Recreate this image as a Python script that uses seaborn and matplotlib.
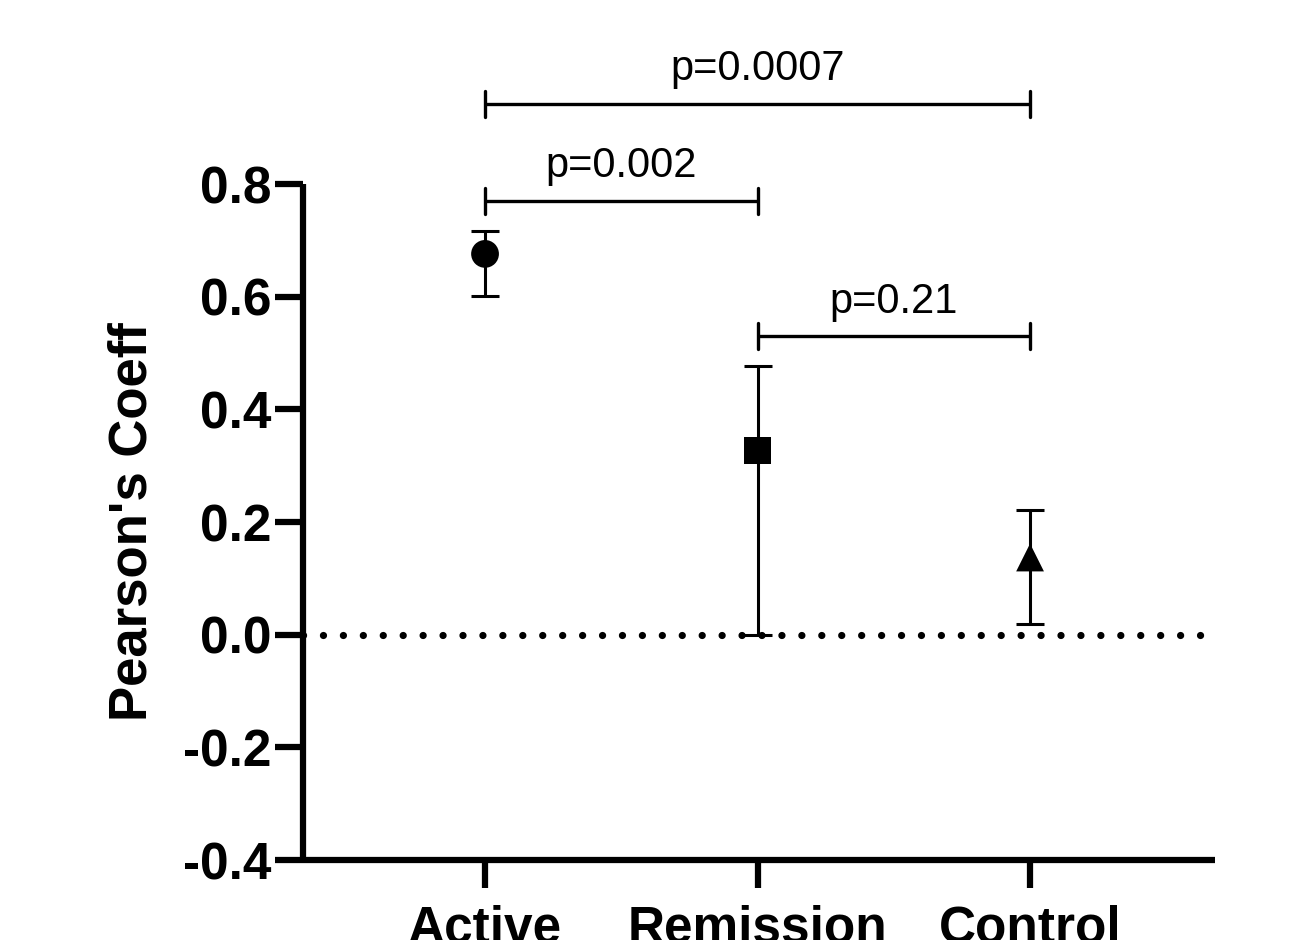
import numpy as np
import pandas as pd
import matplotlib
matplotlib.use("Agg")
import matplotlib.pyplot as plt
import seaborn as sns

# Group summary values
groups = ["Active", "Remission", "Control"]
means = [0.676, 0.327, 0.137]
upper = [0.717, 0.477, 0.221]
lower = [0.601, 0.000, 0.019]
markers = ["o", "s", "^"]

# Significance brackets: (from group, to group, height, label)
comp_from = ["Active", "Active", "Remission"]
comp_to = ["Control", "Remission", "Control"]
comp_y = [0.942, 0.770, 0.530]
comp_text = ["p=0.0007", "p=0.002", "p=0.21"]

sns.set_style("ticks")
plt.rcParams["font.family"] = ["Liberation Sans", "DejaVu Sans"]
plt.rcParams.update({"text.color": "black", "axes.edgecolor": "black",
                     "xtick.color": "black", "ytick.color": "black",
                     "axes.labelcolor": "black"})

df = pd.DataFrame({"group": groups, "mean": means, "upper": upper, "lower": lower})

fig = plt.figure(figsize=(12.91, 9.40), dpi=100)
ax = fig.add_axes([0.2347, 0.0851, 0.7065, 0.7191])

# dotted zero line
ax.axhline(0, xmin=0, xmax=0.985, color="black", lw=5.2,
           linestyle=(0, (0.01, 2.75)), dash_capstyle="round", zorder=1)

# error bars
xpos = np.arange(len(groups))
yerr = [df["mean"] - df["lower"], df["upper"] - df["mean"]]
ax.errorbar(xpos, df["mean"], yerr=yerr, fmt="none", ecolor="black",
            elinewidth=2.2, capsize=10, capthick=2.2, zorder=2)

sns.scatterplot(data=df, x="group", y="mean", style="group", markers=markers,
                color="black", s=400, edgecolor="black", linewidth=0,
                legend=False, ax=ax, zorder=3)

# significance brackets
h = 0.023
for a, b, y, t in zip(comp_from, comp_to, comp_y, comp_text):
    x1, x2 = groups.index(a), groups.index(b)
    ax.plot([x1, x2], [y, y], color="black", lw=2.4, clip_on=False,
             solid_capstyle="butt")
    ax.plot([x1, x1], [y - h, y + h], color="black", lw=2.4, clip_on=False)
    ax.plot([x2, x2], [y - h, y + h], color="black", lw=2.4, clip_on=False)
    ax.annotate(t, xy=((x1 + x2) / 2, y), xytext=(0, 17), textcoords="offset points",
                ha="center", va="baseline", fontsize=30, annotation_clip=False)

ax.set_xlim(-0.668, 2.679)
ax.set_ylim(-0.4, 0.8)
ax.set_yticks([-0.4, -0.2, 0.0, 0.2, 0.4, 0.6, 0.8])
ax.set_yticklabels(["-0.4", "-0.2", "0.0", "0.2", "0.4", "0.6", "0.8"])
ax.set_xticks(xpos)
ax.set_xticklabels(groups)

sns.despine(ax=ax)
for side in ["left", "bottom"]:
    ax.spines[side].set_linewidth(4.5)
    ax.spines[side].set_capstyle("butt")

ax.tick_params(axis="y", length=20, width=4.5, pad=3, labelsize=37)
ax.tick_params(axis="x", length=20, width=4.5, pad=12, labelsize=37)
for lab in ax.get_xticklabels() + ax.get_yticklabels():
    lab.set_fontweight("bold")

ax.set_xlabel("")
ax.set_ylabel("Pearson's Coeff", fontsize=38, fontweight="bold", labelpad=18)

fig.savefig("out.png", dpi=100)
